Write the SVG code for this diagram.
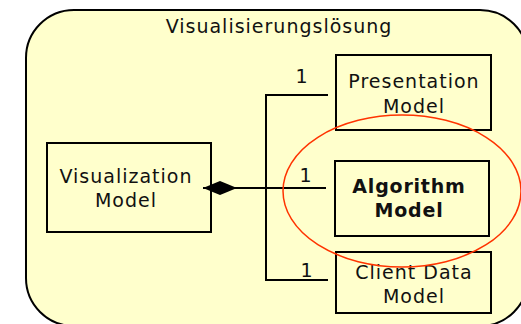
<svg xmlns="http://www.w3.org/2000/svg" width="521" height="324" viewBox="0 0 521 324">
<style>
.box{fill:#FFFFCC;stroke:#000;stroke-width:2}
.t{font-family:"DejaVu Sans",Verdana,sans-serif;font-size:19px;letter-spacing:1px;fill:#111;text-anchor:middle}
.b{font-weight:bold;letter-spacing:0.8px}
.ln{fill:none;stroke:#000;stroke-width:2}
</style>
<rect width="521" height="324" fill="#fff"/>
<g id="container">
<rect x="26" y="10" width="502" height="316" rx="48" ry="48" class="box"/>
<text class="t" x="279" y="33">Visualisierungslösung</text>
</g>
<g id="presentation-model">
<rect x="336" y="55" width="155" height="75" class="box"/>
<text class="t" x="414" y="88">Presentation</text>
<text class="t" x="414" y="113">Model</text>
</g>
<g id="visualization-model">
<rect x="47" y="143" width="164" height="89" class="box"/>
<text class="t" x="126" y="183">Visualization</text>
<text class="t" x="126" y="207">Model</text>
</g>
<g id="algorithm-model">
<rect x="335" y="161" width="154" height="75" class="box"/>
<text class="t b" x="409" y="193">Algorithm</text>
<text class="t b" x="409" y="217">Model</text>
</g>
<g id="client-data-model">
<rect x="336" y="252" width="155" height="61" class="box"/>
<text class="t" x="414" y="279">Client Data</text>
<text class="t" x="414" y="303">Model</text>
</g>
<g id="connectors">
<path class="ln" d="M203 188 H326"/>
<path d="M203 188 L220 181 L237 188 L220 195 Z" fill="#000"/>
<path class="ln" d="M328 95 H266 V280 H328"/>
<text class="t" x="302" y="83">1</text>
<text class="t" x="306" y="182">1</text>
<text class="t" x="307" y="277">1</text>
</g>
<g id="highlight">
<ellipse cx="402" cy="191" rx="119" ry="76" fill="none" stroke="#FF3300" stroke-width="1.5"/>
</g>
</svg>
